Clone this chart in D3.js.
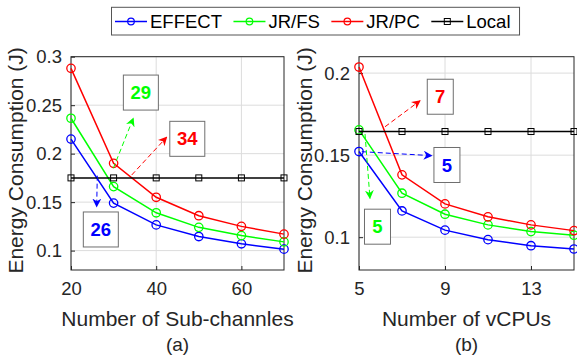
<!DOCTYPE html>
<html>
<head>
  <script src="https://cdnjs.cloudflare.com/ajax/libs/d3/7.8.5/d3.min.js"></script>
  <style>
    body { margin: 0; background: #fff; }
    svg { display: block; font-family: "Liberation Sans", Arial, sans-serif; }
  </style>
</head>
<body>
<div id="chart"></div>
<script>
// ---- data ----
var subChannels = [20, 30, 40, 50, 60, 70];
var effectA = [0.215, 0.149, 0.1265, 0.1145, 0.107, 0.1015];
var jrfsA   = [0.2365, 0.166, 0.139, 0.124, 0.1155, 0.109];
var jrpcA   = [0.288, 0.190, 0.155, 0.136, 0.125, 0.117];
var localA  = [0.175, 0.175, 0.175, 0.175, 0.175, 0.175];

var vcpus   = [5, 7, 9, 11, 13, 15];
var effectB = [0.1522, 0.116, 0.1043, 0.0985, 0.0948, 0.0928];
var jrfsB   = [0.1654, 0.1268, 0.114, 0.1075, 0.1034, 0.1012];
var jrpcB   = [0.2037, 0.138, 0.1203, 0.1124, 0.1075, 0.104];
var localB  = [0.1644, 0.1644, 0.1644, 0.1644, 0.1644, 0.1644];

var xTicksA = [20, 40, 60];
var yTicksA = [0.1, 0.15, 0.2, 0.25, 0.3];
var xTicksB = [5, 9, 13];
var yTicksB = [0.1, 0.15, 0.2];

var seriesNames = ['EFFECT', 'JR/FS', 'JR/PC', 'Local'];
var seriesColors = ['#0000ff', '#00ff00', '#ff0000', '#000000'];

// annotations: label, color, arrow from/to and box centre in data units
var notesA = [
  {label: '29', color: '#00ff00', from: [29.93, 0.1849], to: [34.62, 0.2365], box: [36.4, 0.263]},
  {label: '34', color: '#ff0000', from: [34.25, 0.178], to: [42.46, 0.217], box: [47.3, 0.2153]},
  {label: '26', color: '#0000ff', from: [26.17, 0.1773], to: [26.03, 0.1453], box: [27.0, 0.1218]}
];
var notesB = [
  {label: '7', color: '#ff0000', from: [6.21, 0.1673], to: [7.84, 0.1832], box: [8.78, 0.1856]},
  {label: '5', color: '#0000ff', from: [5.13, 0.1521], to: [8.38, 0.1497], box: [9.09, 0.144]},
  {label: '5', color: '#00ff00', from: [5.28, 0.1629], to: [5.51, 0.1237], box: [5.86, 0.1064]}
];

//----------------------------------------
var width = 577, height = 362;
var textColor = '#262626';

var svg = d3.select('#chart').append('svg')
    .attr('width', width)
    .attr('height', height);

var defs = svg.append('defs');
seriesColors.forEach(function(c, i) {
    defs.append('marker')
        .attr('id', 'arrow' + i)
        .attr('viewBox', '0 0 10 10')
        .attr('refX', 9).attr('refY', 5)
        .attr('markerWidth', 9).attr('markerHeight', 9)
        .attr('markerUnits', 'userSpaceOnUse')
        .attr('orient', 'auto')
        .append('path')
        .attr('d', 'M0,0 L10,5 L0,10 L3,5 Z')
        .attr('fill', c);
});

function drawPanel(opt) {
    var x = d3.scaleLinear().domain(opt.xDomain).range([opt.left, opt.right]);
    var y = d3.scaleLinear().domain(opt.yDomain).range([opt.bottom, opt.top]);
    var g = svg.append('g');

    // grid
    g.selectAll('.gx').data(opt.xTicks).enter().append('line')
        .attr('x1', x).attr('x2', x)
        .attr('y1', opt.top).attr('y2', opt.bottom)
        .attr('stroke', '#dcdcdc').attr('stroke-width', 1);
    g.selectAll('.gy').data(opt.yTicks).enter().append('line')
        .attr('y1', y).attr('y2', y)
        .attr('x1', opt.left).attr('x2', opt.right)
        .attr('stroke', '#dcdcdc').attr('stroke-width', 1);

    // frame
    g.append('rect')
        .attr('x', opt.left).attr('y', opt.top)
        .attr('width', opt.right - opt.left).attr('height', opt.bottom - opt.top)
        .attr('fill', 'none').attr('stroke', textColor).attr('stroke-width', 1);

    // axes with inward ticks
    var xAxis = d3.axisBottom(x).tickValues(opt.xTicks).tickSizeInner(-4).tickSizeOuter(0).tickPadding(12)
        .tickFormat(d3.format('d'));
    var yAxis = d3.axisLeft(y).tickValues(opt.yTicks).tickSizeInner(-4).tickSizeOuter(0).tickPadding(9)
        .tickFormat(function(d) { return String(+d.toFixed(2)); });
    [['x', xAxis, 'translate(0,' + opt.bottom + ')'], ['y', yAxis, 'translate(' + opt.left + ',0)']].forEach(function(a) {
        var ax = g.append('g').attr('transform', a[2]).call(a[1]);
        ax.select('.domain').remove();
        ax.selectAll('line').attr('stroke', textColor);
        ax.selectAll('text').attr('fill', textColor).style('font-size', '18.5px')
            .style('font-family', '"Liberation Sans", Arial, sans-serif');
    });

    // axis titles
    g.append('text')
        .attr('x', (opt.left + opt.right) / 2).attr('y', 326)
        .attr('text-anchor', 'middle').attr('fill', textColor)
        .style('font-size', '21px').text(opt.xTitle);
    g.append('text')
        .attr('x', (opt.left + opt.right) / 2).attr('y', 351)
        .attr('text-anchor', 'middle').attr('fill', textColor)
        .style('font-size', '19px').text(opt.caption);
    g.append('text')
        .attr('transform', 'translate(' + opt.yTitleX + ',' + ((opt.top + opt.bottom) / 2 - 3) + ') rotate(-90)')
        .attr('text-anchor', 'middle').attr('fill', textColor)
        .style('font-size', '21px').text('Energy Consumption (J)');

    // series
    var line = d3.line()
        .x(function(d) { return x(d[0]); })
        .y(function(d) { return y(d[1]); });
    opt.series.forEach(function(vals, i) {
        var pts = opt.xs.map(function(v, j) { return [v, vals[j]]; });
        g.append('path').datum(pts)
            .attr('d', line).attr('fill', 'none')
            .attr('stroke', seriesColors[i]).attr('stroke-width', 1.5);
        if (i < 3) {
            g.selectAll('.m' + i).data(pts).enter().append('circle')
                .attr('cx', function(d) { return x(d[0]); })
                .attr('cy', function(d) { return y(d[1]); })
                .attr('r', 4.2).attr('fill', 'none')
                .attr('stroke', seriesColors[i]).attr('stroke-width', 1.3);
        } else {
            g.selectAll('.m' + i).data(pts).enter().append('rect')
                .attr('x', function(d) { return x(d[0]) - 3; })
                .attr('y', function(d) { return y(d[1]) - 3; })
                .attr('width', 6).attr('height', 6).attr('fill', 'none')
                .attr('stroke', '#000').attr('stroke-width', 1);
        }
    });

    // annotations
    opt.notes.forEach(function(n) {
        var ci = seriesColors.indexOf(n.color);
        g.append('line')
            .attr('x1', x(n.from[0])).attr('y1', y(n.from[1]))
            .attr('x2', x(n.to[0])).attr('y2', y(n.to[1]))
            .attr('stroke', n.color).attr('stroke-width', 1)
            .attr('stroke-dasharray', '5,3')
            .attr('marker-end', 'url(#arrow' + ci + ')');
        var cx = x(n.box[0]), cy = y(n.box[1]);
        var bw = opt.boxW, bh = 35;
        g.append('rect')
            .attr('x', cx - bw / 2).attr('y', cy - bh / 2)
            .attr('width', bw).attr('height', bh)
            .attr('fill', '#fff').attr('stroke', '#6e6e6e').attr('stroke-width', 1);
        g.append('text')
            .attr('x', cx).attr('y', cy).attr('dy', '0.36em')
            .attr('text-anchor', 'middle').attr('fill', n.color)
            .style('font-size', '18.5px').style('font-weight', 'bold')
            .text(n.label);
    });
}

drawPanel({
    left: 71, right: 284, top: 56.7, bottom: 270,
    xDomain: [20, 70], yDomain: [0.08, 0.3],
    xTicks: xTicksA, yTicks: yTicksA,
    xs: subChannels, series: [effectA, jrfsA, jrpcA, localA],
    xTitle: 'Number of Sub-channles', caption: '(a)', yTitleX: 22.5,
    notes: notesA, boxW: 35
});
drawPanel({
    left: 359, right: 574, top: 56.7, bottom: 270,
    xDomain: [5, 15], yDomain: [0.08, 0.21],
    xTicks: xTicksB, yTicks: yTicksB,
    xs: vcpus, series: [effectB, jrfsB, jrpcB, localB],
    xTitle: 'Number of vCPUs', caption: '(b)', yTitleX: 312,
    notes: notesB, boxW: 26
});

//----------------------------------------
// Legend
var legend = svg.append('g');
var legendBox = legend.append('rect')
    .attr('x', 111.5).attr('y', 7.3).attr('height', 27.7)
    .attr('fill', '#fff').attr('stroke', '#555').attr('stroke-width', 1);
var lx = 115;
seriesNames.forEach(function(name, i) {
    legend.append('line')
        .attr('x1', lx).attr('x2', lx + 32).attr('y1', 21.5).attr('y2', 21.5)
        .attr('stroke', seriesColors[i]).attr('stroke-width', 1.5);
    if (i < 3) {
        legend.append('circle').attr('cx', lx + 16).attr('cy', 21.5).attr('r', 3.3)
            .attr('fill', 'none').attr('stroke', seriesColors[i]).attr('stroke-width', 1.2);
    } else {
        legend.append('rect').attr('x', lx + 13).attr('y', 18.5).attr('width', 6).attr('height', 6)
            .attr('fill', 'none').attr('stroke', '#000').attr('stroke-width', 1);
    }
    var t = legend.append('text')
        .attr('x', lx + 35).attr('y', 28.3)
        .attr('fill', '#000').style('font-size', '18.5px')
        .text(name);
    lx = lx + 35 + t.node().getComputedTextLength() + 11.5;
});
legendBox.attr('width', lx - 11.5 + 9 - 111.5);
</script>
</body>
</html>
